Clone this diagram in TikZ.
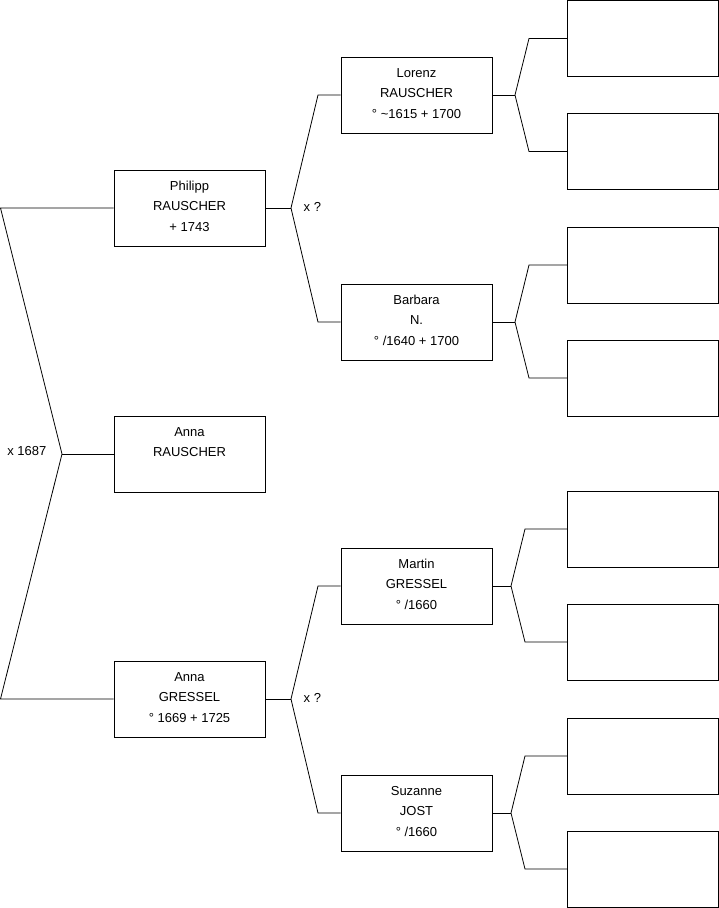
\documentclass[tikz,border=0pt]{standalone}
\usepackage{fontspec}
\setmainfont{Liberation Sans}
\newcommand{\lowstrut}{\rule[-9pt]{0pt}{23pt}}
\begin{document}
\begin{tikzpicture}[x=1pt,y=-1pt,
  person/.style={draw=black, line width=1pt, minimum width=151pt, minimum height=76pt,
    inner sep=0pt, align=center, font=\fontsize{13}{20}\selectfont},
  empty/.style={draw=black, line width=1pt, minimum width=151pt, minimum height=76pt, inner sep=0pt},
  link/.style={draw=black, line width=0.8pt},
  lbl/.style={inner sep=0pt, font=\fontsize{13}{16}\selectfont}]
\useasboundingbox (0,0) rectangle (719,908);
% generation 1
\node[person] (P) at (189.5,208) {\strut Philipp\\\strut RAUSCHER\\\lowstrut + 1743};
\node[person] (AR) at (189.5,454) {\strut Anna\\\strut RAUSCHER\\\lowstrut};
\node[person] (AG) at (189.5,699) {\strut Anna\\\strut GRESSEL\\\lowstrut ° 1669 + 1725};
% generation 2
\node[person] (L) at (416.5,95) {\strut Lorenz\\\strut RAUSCHER\\\lowstrut ° \textasciitilde1615 + 1700};
\node[person] (B) at (416.5,322) {\strut Barbara\\\strut N.\\\lowstrut ° /1640 + 1700};
\node[person] (M) at (416.5,586) {\strut Martin\\\strut GRESSEL\\\lowstrut ° /1660};
\node[person] (S) at (416.5,813) {\strut Suzanne\\\strut JOST\\\lowstrut ° /1660};
% generation 3
\node[empty] (L1) at (642.75,38.5) {};
\node[empty] (L2) at (642.75,151.5) {};
\node[empty] (B1) at (642.75,265) {};
\node[empty] (B2) at (642.75,378) {};
\node[empty] (M1) at (642.75,529) {};
\node[empty] (M2) at (642.75,642) {};
\node[empty] (S1) at (642.75,756) {};
\node[empty] (S2) at (642.75,869) {};
% fork points
\coordinate (v0) at (62,454);
\coordinate (v0a) at (0.5,208);
\coordinate (v0b) at (0.5,699);
\coordinate (vP) at (291,208);
\coordinate (vPa) at (318,95);
\coordinate (vPb) at (318,322);
\coordinate (vG) at (291,699);
\coordinate (vGa) at (318,586);
\coordinate (vGb) at (318,813);
\coordinate (vL) at (515,95);
\coordinate (vLa) at (529,38.5);
\coordinate (vLb) at (529,151.5);
\coordinate (vB) at (515,322);
\coordinate (vBa) at (529,265);
\coordinate (vBb) at (529,378);
\coordinate (vM) at (511,586);
\coordinate (vMa) at (525,529);
\coordinate (vMb) at (525,642);
\coordinate (vS) at (511,813);
\coordinate (vSa) at (525,756);
\coordinate (vSb) at (525,869);
% connectors
\draw[link] (P.west) -- (v0a) -- (v0) -- (v0b) -- (AG.west);
\draw[link] (v0) -- (AR.west);
\draw[link] (P.east) -- (vP);
\draw[link] (L.west) -- (vPa) -- (vP) -- (vPb) -- (B.west);
\draw[link] (AG.east) -- (vG);
\draw[link] (M.west) -- (vGa) -- (vG) -- (vGb) -- (S.west);
\draw[link] (L.east) -- (vL);
\draw[link] (L1.west) -- (vLa) -- (vL) -- (vLb) -- (L2.west);
\draw[link] (B.east) -- (vB);
\draw[link] (B1.west) -- (vBa) -- (vB) -- (vBb) -- (B2.west);
\draw[link] (M.east) -- (vM);
\draw[link] (M1.west) -- (vMa) -- (vM) -- (vMb) -- (M2.west);
\draw[link] (S.east) -- (vS);
\draw[link] (S1.west) -- (vSa) -- (vS) -- (vSb) -- (S2.west);
% marriage labels
\node[lbl, anchor=east] (m0) at (46.5,451) {x 1687};
\node[lbl, anchor=west] (m1) at (303.5,207) {x ?};
\node[lbl, anchor=west] (m2) at (303.5,698) {x ?};
\end{tikzpicture}
\end{document}
